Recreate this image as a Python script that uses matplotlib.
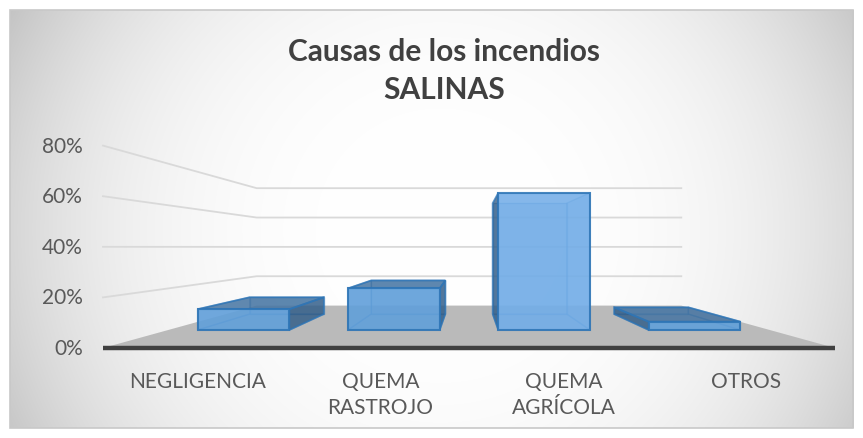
#!/usr/bin/env python3
# coding: utf-8

import numpy as np
import matplotlib
matplotlib.use("Agg")
import matplotlib.pyplot as plt
from matplotlib.patches import Polygon, Rectangle

# data
categories = ["NEGLIGENCIA", "QUEMA\nRASTROJO", "QUEMA\nAGRÍCOLA", "OTROS"]
values = [0.10, 0.20, 0.66, 0.04]
y_ticks = [0.0, 0.2, 0.4, 0.6, 0.8]
y_tick_labels = ["0%", "20%", "40%", "60%", "80%"]
title = "Causas de los incendios\nSALINAS"

W, H = 863, 438

# fake 3d perspective (pixel space of the figure)
VX, VY = 469, 247          # vanishing point
X0, X1 = 103, 835          # front plane extent of category axis
Y0 = 348                   # front plane baseline
UNIT = 253                 # px per 100% on front plane
WALL = 0.724               # depth of back wall
BAR_D0, BAR_D1 = 0.30 * WALL, 0.70 * WALL
BAR_FRAC = 0.61

TXT = "#595959"
FONT = "Lato"


def proj(xf, v, d):
    s = 1.0 / (1.0 + d)
    yf = Y0 - UNIT * v
    return (VX + s * (xf - VX), VY + s * (yf - VY))


fig = plt.figure(figsize=(W / 100, H / 100), dpi=100)
ax = fig.add_axes([0, 0, 1, 1])
ax.set_xlim(0, W)
ax.set_ylim(H, 0)
ax.axis("off")

# background gradient of the chart area
bx0, by0, bx1, by1 = 10, 10, 853, 428
gx, gy = np.meshgrid(np.linspace(bx0, bx1, 400), np.linspace(by0, by1, 200))
r = np.sqrt(((gx - 440) / 430) ** 2 + ((gy - 230) / 420) ** 2)
bright = np.clip(1 - 0.16 * r ** 3, 0, 1)
ax.imshow(np.dstack([bright] * 3), extent=(bx0, bx1, by1, by0), zorder=0,
          interpolation="bilinear", aspect="auto")
ax.add_patch(Rectangle((bx0, by0), bx1 - bx0, by1 - by0, fill=False,
                       ec="#c8c8c8", lw=1.2, zorder=1))

# floor
floor = [proj(X0, 0, 0), proj(X1, 0, 0), proj(X1, 0, WALL), proj(X0, 0, WALL)]
ax.add_patch(Polygon(floor, closed=True, fc="#bababa", ec="none", zorder=2))

# gridlines on side wall and back wall
for v in y_ticks[1:]:
    p0 = proj(X0, v, 0)
    p1 = proj(X0, v, WALL)
    p2 = proj(X1, v, WALL)
    ax.plot([p0[0], p1[0], p2[0]], [p0[1], p1[1], p2[1]], color="#d9d9d9",
            lw=1.3, zorder=2, solid_joinstyle="miter")

# front baseline
a, b = proj(X0, 0, 0), proj(X1, 0, 0)
ax.plot([a[0], b[0]], [a[1], b[1]], color="#404040", lw=3.2, zorder=3,
        solid_capstyle="butt")

# y tick labels
for v, lab in zip(y_ticks, y_tick_labels):
    px, py = proj(X0, v, 0)
    ax.text(px - 20, py + 1, lab, ha="right", va="center", fontsize=15,
            color=TXT, family=FONT)

# bars
slot = (X1 - X0) / len(values)
edge = "#2e75b6"
for i, v in enumerate(values):
    xc = X0 + (i + 0.5) * slot
    xl, xr = xc - BAR_FRAC * slot / 2, xc + BAR_FRAC * slot / 2
    c = {}
    for kx, xx in (("l", xl), ("r", xr)):
        for kv, vv in (("b", 0), ("t", v)):
            for kd, dd in (("f", BAR_D0), ("k", BAR_D1)):
                c[kx + kv + kd] = proj(xx, vv, dd)
    faces_back = [
        ([c["lbf"], c["rbf"], c["rbk"], c["lbk"]], "#5b9bd5", 0.25),   # bottom
        ([c["lbk"], c["rbk"], c["rtk"], c["ltk"]], "#5b9bd5", 0.35),   # back
    ]
    left = [c["lbf"], c["lbk"], c["ltk"], c["ltf"]]
    right = [c["rbf"], c["rbk"], c["rtk"], c["rtf"]]
    if xc < VX:
        hidden, shown = left, right
    else:
        hidden, shown = right, left
    faces_back.append((hidden, "#5b9bd5", 0.25))
    z = 4
    for pts, col, al in faces_back:
        ax.add_patch(Polygon(pts, closed=True, fc=col, alpha=al, ec="none", zorder=z))
        ax.add_patch(Polygon(pts, closed=True, fill=False, ec=edge, lw=1.0,
                             alpha=0.45, zorder=z))
    z += 1
    ax.add_patch(Polygon(shown, closed=True, fc="#2c5680", alpha=0.75, ec=edge,
                         lw=1.3, zorder=z))
    top = [c["ltf"], c["rtf"], c["rtk"], c["ltk"]]
    if v < (Y0 - VY) / UNIT:
        ax.add_patch(Polygon(top, closed=True, fc="#44729f", alpha=0.8, ec=edge,
                             lw=1.3, zorder=z))
    front = [c["lbf"], c["rbf"], c["rtf"], c["ltf"]]
    fc = "#74aee8" if v > 0.4 else "#62a0da"
    ax.add_patch(Polygon(front, closed=True, fc=fc, alpha=0.88, ec=edge,
                         lw=1.5, zorder=z + 1))

# category labels
for i, lab in enumerate(categories):
    xc = X0 + (i + 0.5) * slot
    ax.text(xc + 3, 372, lab, ha="center", va="top", fontsize=15,
            color=TXT, family=FONT, linespacing=1.35)

ax.text(444, 71, title, ha="center", va="center", fontsize=21.5,
        fontweight="bold", color="#404040", family=FONT, linespacing=1.45)

fig.savefig("out.png", dpi=100)
